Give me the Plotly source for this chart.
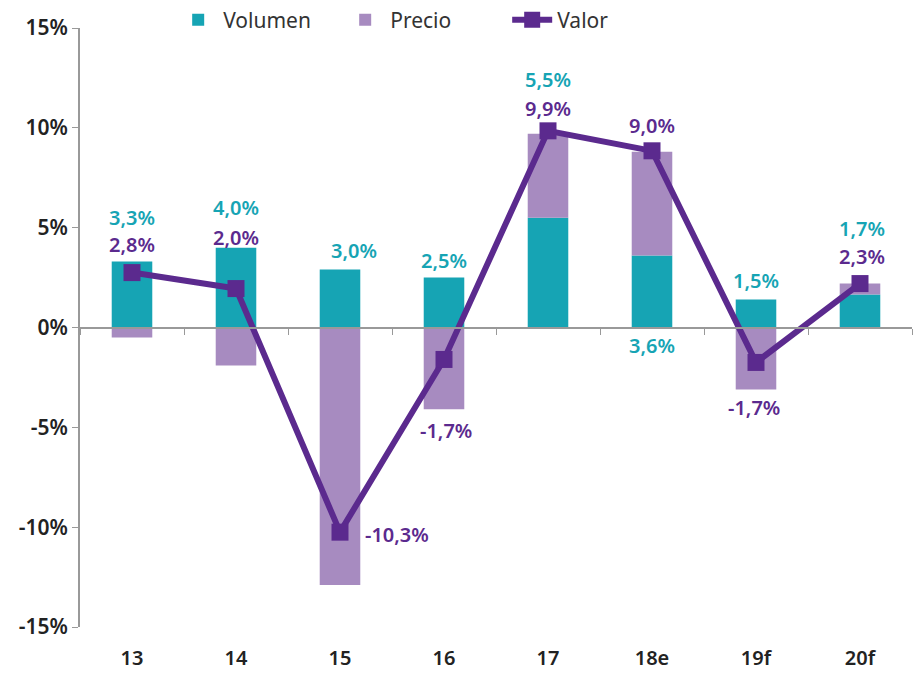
import plotly.graph_objects as go

categories = ["13", "14", "15", "16", "17", "18e", "19f", "20f"]
volumen = [3.3, 4.0, 2.9, 2.5, 5.5, 3.6, 1.4, 1.65]
precio = [-0.5, -1.9, -12.9, -4.1, 4.2, 5.2, -3.1, 0.55]
valor = [2.8, 2.0, -10.3, -1.7, 9.9, 9.0, -1.7, 2.3]
valor_pos = [2.75, 1.95, -10.25, -1.6, 9.85, 8.85, -1.75, 2.2]
vol_labels = ["3,3%", "4,0%", "3,0%", "2,5%", "5,5%", "3,6%", "1,5%", "1,7%"]
val_labels = ["2,8%", "2,0%", "-10,3%", "-1,7%", "9,9%", "9,0%", "-1,7%", "2,3%"]

# label placement (data units / pixel offsets)
vol_label_y = [5.5, 6.0, 3.85, 3.35, 12.4, -0.9, 2.35, 4.95]
vol_label_dx = [0, 0, 14, 0, 0, 0, 0, 2]
val_label_y = [4.15, 4.5, -10.35, -5.15, 10.95, 10.1, -4.0, 3.55]
val_label_dx = [0, 0, 57, 2, 0, 0, -2, 2]

TEAL = "#16a4b4"
LAV = "#a78bc0"
PURPLE = "#5b2a8e"
FONT = "Noto Sans"

fig = go.Figure()
fig.add_trace(go.Bar(x=categories, y=volumen, name="Volumen", marker_color=TEAL,
                     width=0.39, marker_line_width=0))
fig.add_trace(go.Bar(x=categories, y=precio, name="Precio", marker_color=LAV,
                     width=0.39, marker_line_width=0))
fig.add_trace(go.Scatter(x=categories, y=valor_pos, name="Valor", mode="lines+markers",
                         line=dict(color=PURPLE, width=6),
                         marker=dict(symbol="square", size=17, color=PURPLE)))
# helper trace for the zero-line axis
fig.add_trace(go.Scatter(x=categories, y=[None]*len(categories), xaxis="x2",
                         showlegend=False, hoverinfo="skip", mode="markers"))

for i, c in enumerate(categories):
    fig.add_annotation(x=i, y=vol_label_y[i], text=vol_labels[i], showarrow=False,
                       xref="x", yref="y", xshift=vol_label_dx[i],
                       font=dict(family=FONT, size=20, color=TEAL, weight=600))
    fig.add_annotation(x=i, y=val_label_y[i], text=val_labels[i], showarrow=False,
                       xref="x", yref="y", xshift=val_label_dx[i],
                       font=dict(family=FONT, size=20, color=PURPLE, weight=600))

fig.update_layout(
    width=920, height=673,
    margin=dict(l=80, r=8, t=28, b=46, autoexpand=False),
    paper_bgcolor="white", plot_bgcolor="white",
    barmode="relative",
    font=dict(family=FONT, size=20, color="#222"),
    legend=dict(orientation="h", x=0.112, y=1.013, xanchor="left", yanchor="middle",
                font=dict(family=FONT, size=21, color="#333"),
                bgcolor="rgba(0,0,0,0)", itemwidth=40, entrywidth=112,
                tracegroupgap=0),
    xaxis=dict(type="category", categoryorder="array", categoryarray=categories,
               range=[-0.5, 7.5], showline=False, showgrid=False, zeroline=False,
               ticks="", ticklabelstandoff=17,
               tickfont=dict(family=FONT, size=20, color="#222", weight=600)),
    xaxis2=dict(type="category", categoryorder="array", categoryarray=categories,
                range=[-0.5, 7.5], overlaying="x", anchor="free", position=0.5,
                side="bottom", showline=True, linecolor="#999", linewidth=2,
                ticks="outside", tickson="boundaries", ticklen=6, tickcolor="#999",
                showticklabels=False, showgrid=False, zeroline=False),
    yaxis=dict(range=[-15, 15], tickvals=[-15, -10, -5, 0, 5, 10, 15],
               ticktext=["-15%", "-10%", "-5%", "0%", "5%", "10%", "15%"],
               showline=True, linecolor="#999", linewidth=2, ticks="outside",
               ticklen=6, tickcolor="#999", showgrid=False, zeroline=False,
               tickfont=dict(family=FONT, size=21, color="#222", weight=600)),
)

fig.write_html("out.html")
